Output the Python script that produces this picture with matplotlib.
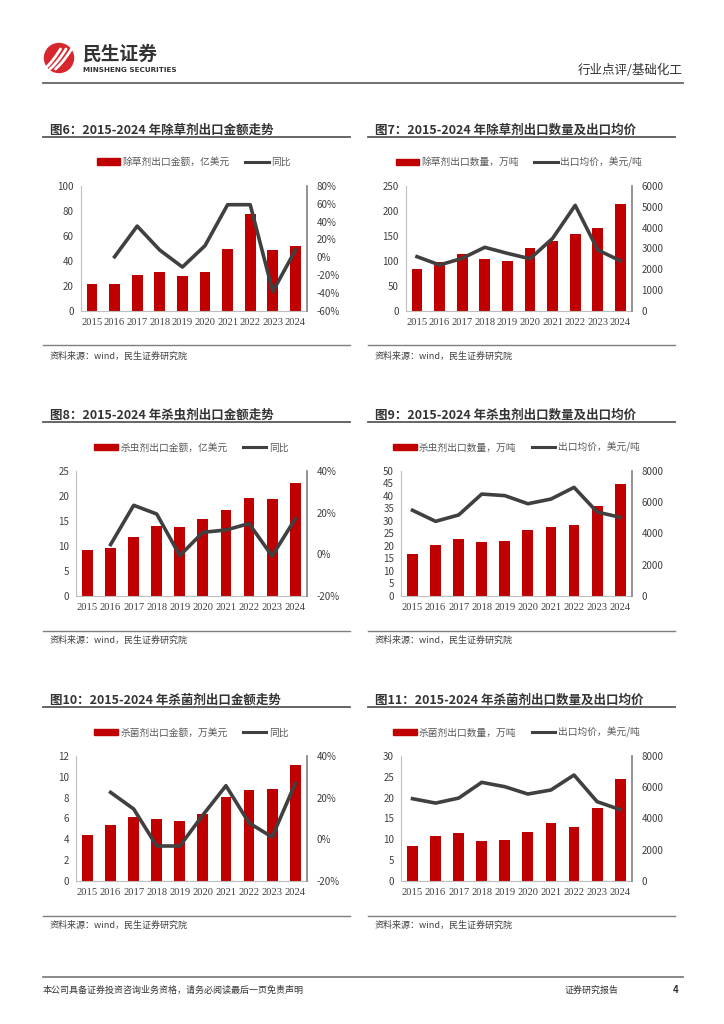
import matplotlib
matplotlib.use('Agg')
import matplotlib.pyplot as plt
import matplotlib.ticker as ticker
from matplotlib.patches import Circle, Rectangle
from matplotlib.lines import Line2D
import numpy as np

plt.rcParams['font.family'] = ['Noto Sans CJK SC', 'DejaVu Sans']

nan = np.nan
years = ['2015', '2016', '2017', '2018', '2019', '2020', '2021', '2022', '2023', '2024']

herbicide_value = [21.7, 21.7, 28.9, 31.0, 27.8, 31.0, 49.2, 77.3, 48.4, 51.6]
herbicide_value_yoy = [nan, 0.6, 35, 8, -11, 13, 59, 59, -38.5, 8]
herbicide_volume = [83, 98, 114, 103, 100, 125, 140, 153, 165, 214]
herbicide_price = [2600, 2200, 2520, 3050, 2760, 2500, 3480, 5070, 2920, 2400]

insecticide_value = [9.1, 9.6, 11.8, 14.0, 13.8, 15.4, 17.2, 19.5, 19.3, 22.5]
insecticide_value_yoy = [nan, 4.6, 23.5, 19.3, -0.7, 10.5, 11.6, 14.7, -0.9, 16.9]
insecticide_volume = [16.8, 20.3, 22.7, 21.5, 21.8, 26.2, 27.7, 28.2, 36.1, 44.9]
insecticide_price = [5480, 4770, 5180, 6520, 6420, 5900, 6200, 6950, 5370, 5030]

fungicide_value = [4.36, 5.33, 6.1, 5.9, 5.7, 6.4, 8.05, 8.7, 8.8, 11.1]
fungicide_value_yoy = [nan, 22.5, 14.5, -3.3, -3.3, 11.6, 25.7, 7.8, 1.0, 26.7]
fungicide_volume = [8.3, 10.7, 11.5, 9.5, 9.7, 11.6, 14.0, 12.9, 17.5, 24.5]
fungicide_price = [5260, 4980, 5300, 6310, 6030, 5560, 5820, 6780, 5070, 4560]

RED = '#C00000'
LINE = '#404040'
TXT = '#404040'
W, H = 724, 1024

fig = plt.figure(figsize=(W / 100, H / 100), dpi=100)


def px_rect(x0, y0, x1, y1):
    return [x0 / W, 1 - y1 / H, (x1 - x0) / W, (y1 - y0) / H]


def fx(x):
    return x / W


def fy(y):
    return 1 - y / H


def hline(x0, x1, y, color, lw):
    fig.add_artist(Line2D([fx(x0), fx(x1)], [fy(y), fy(y)], color=color, lw=lw,
                          transform=fig.transFigure))


# header logo (drawn in inches so the circle stays round)
inch = fig.dpi_scale_trans
fig.add_artist(Circle((59 / 100, (H - 58) / 100), 0.145, color='#D7262E', transform=inch))
for dx in [-5.5, 0, 5.5]:
    t = np.linspace(0, 1, 20)
    xs = 50 + dx + 16 * t
    ys = 69 - 20 * t + 6 * t * (1 - t)
    fig.add_artist(Line2D(xs / 100, (H - ys) / 100, color='white', lw=2.0,
                          transform=inch, solid_capstyle='round'))
fig.text(fx(83), fy(54), '民生证券', fontsize=13.5, fontweight='bold', color='#333333',
         va='center', ha='left')
fig.text(fx(83), fy(69.5), 'MINSHENG SECURITIES', fontsize=5.2, fontweight='bold',
         color='#333333', va='center', ha='left', family='DejaVu Sans')
fig.text(fx(683), fy(70), '行业点评/基础化工', fontsize=9, color='#333333', va='center', ha='right')
hline(43, 683, 83, '#666666', 1.3)

# footer
hline(43, 683, 977, '#808080', 1.3)
fig.text(fx(43), fy(990), '本公司具备证券投资咨询业务资格，请务必阅读最后一页免责声明', fontsize=6.5,
         color='#333333', va='center', ha='left')
fig.text(fx(565), fy(990), '证券研究报告', fontsize=6.5, color='#333333', va='center', ha='left')
fig.text(fx(676), fy(990), '4', fontsize=7, fontweight='bold', color='#333333', va='center', ha='center')


def pct_fmt(v, pos):
    return f'{v:.0f}%'


def draw_panel(title, bar_label, line_label, bars, line, col, row,
               left_lim, left_step, right_lim, right_step, pct):
    xs_title = [50, 375][col]
    ul = [(43, 350), (368, 675)][col]
    title_y = [130, 415, 700][row]
    ul_y = [136.5, 421.7, 706.7][row]
    src_y = [345, 630.7, 915.7][row]
    src_t = [356, 640, 925][row]
    top, bottom = [(186, 310.7), (471, 595.7), (756, 880.7)][row]
    if row == 0:
        left, right = [(80.7, 306.7), (405.7, 631.7)][col]
    else:
        left, right = [(76, 306.7), (401, 631.7)][col]

    fig.text(fx(xs_title), fy(title_y), title, fontsize=9, fontweight='bold',
             color='#333333', va='center', ha='left')
    hline(ul[0], ul[1], ul_y, '#595959', 1.3)
    hline(ul[0], ul[1], src_y, '#7F7F7F', 1.0)
    fig.text(fx(xs_title), fy(src_t), '资料来源：wind，民生证券研究院', fontsize=6.5,
             color='#404040', va='center', ha='left')

    ax = fig.add_axes(px_rect(left, top, right, bottom))
    x = np.arange(len(years))
    ax.bar(x, bars, width=0.47, color=RED, zorder=2)
    ax.set_xlim(-0.5, len(years) - 0.5)
    ax.set_ylim(*left_lim)
    ax.yaxis.set_major_locator(ticker.MultipleLocator(left_step))
    ax.set_xticks(x)
    ax.set_xticklabels(years, family='Liberation Serif', fontsize=7.6)
    ax.tick_params(axis='both', length=0, labelsize=7, labelcolor=TXT)
    ax.tick_params(axis='x', labelsize=7.6, pad=5)
    ax.tick_params(axis='y', pad=5)
    for s in ['top', 'right']:
        ax.spines[s].set_visible(False)
    ax.spines['left'].set_color('#BFBFBF')
    ax.spines['bottom'].set_color('#BFBFBF')
    ax.patch.set_alpha(0)

    ax2 = ax.twinx()
    ax2.plot(x, line, color=LINE, lw=2.6, zorder=3)
    ax2.set_ylim(*right_lim)
    ax2.yaxis.set_major_locator(ticker.MultipleLocator(right_step))
    if pct:
        ax2.yaxis.set_major_formatter(ticker.FuncFormatter(pct_fmt))
    ax2.tick_params(axis='y', length=0, labelsize=7, labelcolor=TXT, pad=7)
    for s in ['top', 'left', 'bottom']:
        ax2.spines[s].set_visible(False)
    ax2.spines['right'].set_color('#808080')
    ax2.spines['right'].set_linewidth(1.2)

    handles = [Rectangle((0, 0), 1, 1, color=RED), Line2D([], [], color=LINE, lw=2.2)]
    leg_y = (top - [162, 447.7, 732.7][row]) / (bottom - top) + 1
    ax.legend(handles, [bar_label, line_label], ncol=2, frameon=False, loc='center',
              bbox_to_anchor=(0.5, leg_y), fontsize=7, handlelength=2.4,
              handleheight=0.6, handletextpad=0.25, columnspacing=1.6, labelcolor='#595959')


draw_panel('图6：2015-2024 年除草剂出口金额走势', '除草剂出口金额，亿美元', '同比',
           herbicide_value, herbicide_value_yoy, 0, 0, (0, 100), 20, (-60, 80), 20, True)
draw_panel('图7：2015-2024 年除草剂出口数量及出口均价', '除草剂出口数量，万吨', '出口均价，美元/吨',
           herbicide_volume, herbicide_price, 1, 0, (0, 250), 50, (0, 6000), 1000, False)
draw_panel('图8：2015-2024 年杀虫剂出口金额走势', '杀虫剂出口金额，亿美元', '同比',
           insecticide_value, insecticide_value_yoy, 0, 1, (0, 25), 5, (-20, 40), 20, True)
draw_panel('图9：2015-2024 年杀虫剂出口数量及出口均价', '杀虫剂出口数量，万吨', '出口均价，美元/吨',
           insecticide_volume, insecticide_price, 1, 1, (0, 50), 5, (0, 8000), 2000, False)
draw_panel('图10：2015-2024 年杀菌剂出口金额走势', '杀菌剂出口金额，万美元', '同比',
           fungicide_value, fungicide_value_yoy, 0, 2, (0, 12), 2, (-20, 40), 20, True)
draw_panel('图11：2015-2024 年杀菌剂出口数量及出口均价', '杀菌剂出口数量，万吨', '出口均价，美元/吨',
           fungicide_volume, fungicide_price, 1, 2, (0, 30), 5, (0, 8000), 2000, False)

fig.savefig('out.png', dpi=100, facecolor='white')
